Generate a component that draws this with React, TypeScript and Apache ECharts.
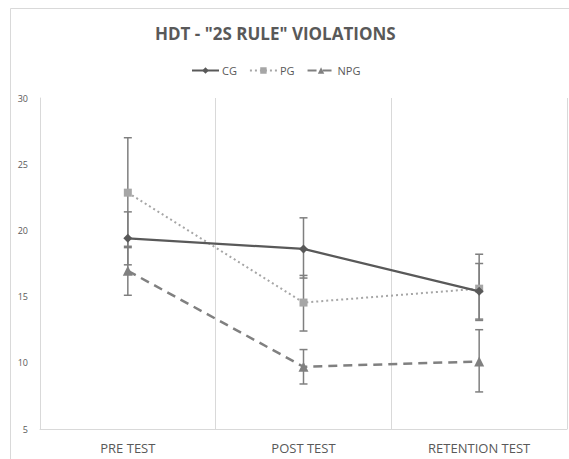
import React, { useEffect, useRef } from "react";
import * as echarts from "echarts";

const categories = ["PRE TEST", "POST TEST", "RETENTION TEST"];
const cgValues = [19.4, 18.6, 15.4];
const pgValues = [22.85, 14.55, 15.6];
const npgValues = [16.95, 9.7, 10.1];
// error bar ranges [low, high] per category
const cgErr = [[17.4, 21.4], [16.4, 20.95], [13.3, 17.5]];
const pgErr = [[18.7, 27.0], [12.4, 16.6], [13.2, 18.2]];
const npgErr = [[15.1, 18.8], [8.4, 11.0], [7.8, 12.5]];
const yTicks = { min: 5, max: 30, interval: 5 };

const TEXT = "#595959";
const GRID = "#d9d9d9";

function errSeries(name: string, ranges: number[][]) {
  return {
    type: "custom",
    name,
    silent: true,
    z: 1,
    data: ranges.map((r, i) => [i, r[0], r[1]]),
    renderItem: (params: any, api: any) => {
      const lo = api.coord([api.value(0), api.value(1)]);
      const hi = api.coord([api.value(0), api.value(2)]);
      const cap = 4;
      const style = { stroke: "#7f7f7f", lineWidth: 1.5 };
      return {
        type: "group",
        children: [
          { type: "line", shape: { x1: lo[0], y1: lo[1], x2: hi[0], y2: hi[1] }, style },
          { type: "line", shape: { x1: lo[0] - cap, y1: lo[1], x2: lo[0] + cap, y2: lo[1] }, style },
          { type: "line", shape: { x1: hi[0] - cap, y1: hi[1], x2: hi[0] + cap, y2: hi[1] }, style },
        ],
      };
    },
  };
}

export default function App() {
  const ref = useRef<HTMLDivElement>(null);
  useEffect(() => {
    document.body.style.margin = "0";
    const chart = echarts.init(ref.current!, null, { renderer: "svg" });
    chart.setOption({
      animation: false,
      backgroundColor: "#ffffff",
      textStyle: { fontFamily: "Open Sans" },
      title: {
        text: 'HDT - "2S RULE" VIOLATIONS',
        left: 150,
        top: 20,
        textStyle: { fontSize: 17, fontWeight: "bold", color: TEXT, fontFamily: "Open Sans" },
      },
      legend: {
        top: 60,
        left: 186,
        itemWidth: 27,
        itemHeight: 8,
        itemGap: 12,
        textStyle: { fontSize: 11, color: TEXT, fontFamily: "Open Sans", padding: [0, 0, 0, -2] },
        data: ["CG", "PG", "NPG"],
      },
      graphic: [
        {
          type: "rect",
          shape: { x: 10.5, y: 8.5, width: 570, height: 470 },
          style: { fill: "none", stroke: GRID, lineWidth: 1 },
          silent: true,
        },
      ],
      grid: { left: 40, top: 98, right: 2, bottom: 30, containLabel: false },
      xAxis: {
        type: "category",
        data: categories,
        boundaryGap: true,
        axisLine: { show: true, lineStyle: { color: GRID, width: 1 } },
        axisTick: { show: false },
        splitLine: { show: true, lineStyle: { color: GRID, width: 1 } },
        axisLabel: { fontSize: 13, color: TEXT, margin: 12, fontFamily: "Open Sans" },
      },
      yAxis: {
        type: "value",
        min: yTicks.min,
        max: yTicks.max,
        interval: yTicks.interval,
        axisLine: { show: true, lineStyle: { color: GRID, width: 1 } },
        axisTick: { show: false },
        splitLine: { show: false },
        axisLabel: { fontSize: 9, color: TEXT, margin: 12, fontFamily: "Open Sans" },
      },
      series: [
        errSeries("CG-err", cgErr),
        errSeries("PG-err", pgErr),
        errSeries("NPG-err", npgErr),
        {
          name: "CG",
          type: "line",
          data: cgValues,
          symbol: "diamond",
          symbolSize: 9,
          z: 4,
          itemStyle: { color: "#595959" },
          lineStyle: { color: "#595959", width: 2.25, type: "solid" },
        },
        {
          name: "PG",
          type: "line",
          data: pgValues,
          symbol: "rect",
          symbolSize: 8,
          z: 3,
          itemStyle: { color: "#a6a6a6" },
          lineStyle: { color: "#a6a6a6", width: 2, type: [2, 3] },
        },
        {
          name: "NPG",
          type: "line",
          data: npgValues,
          symbol: "triangle",
          symbolSize: 10,
          z: 3,
          itemStyle: { color: "#808080" },
          lineStyle: { color: "#808080", width: 2.5, type: [9, 6] },
        },
      ],
    });
    return () => chart.dispose();
  }, []);
  return (
    <div
      ref={ref}
      style={{ position: "fixed", left: 0, top: 0, width: 569, height: 459 }}
    />
  );
}
